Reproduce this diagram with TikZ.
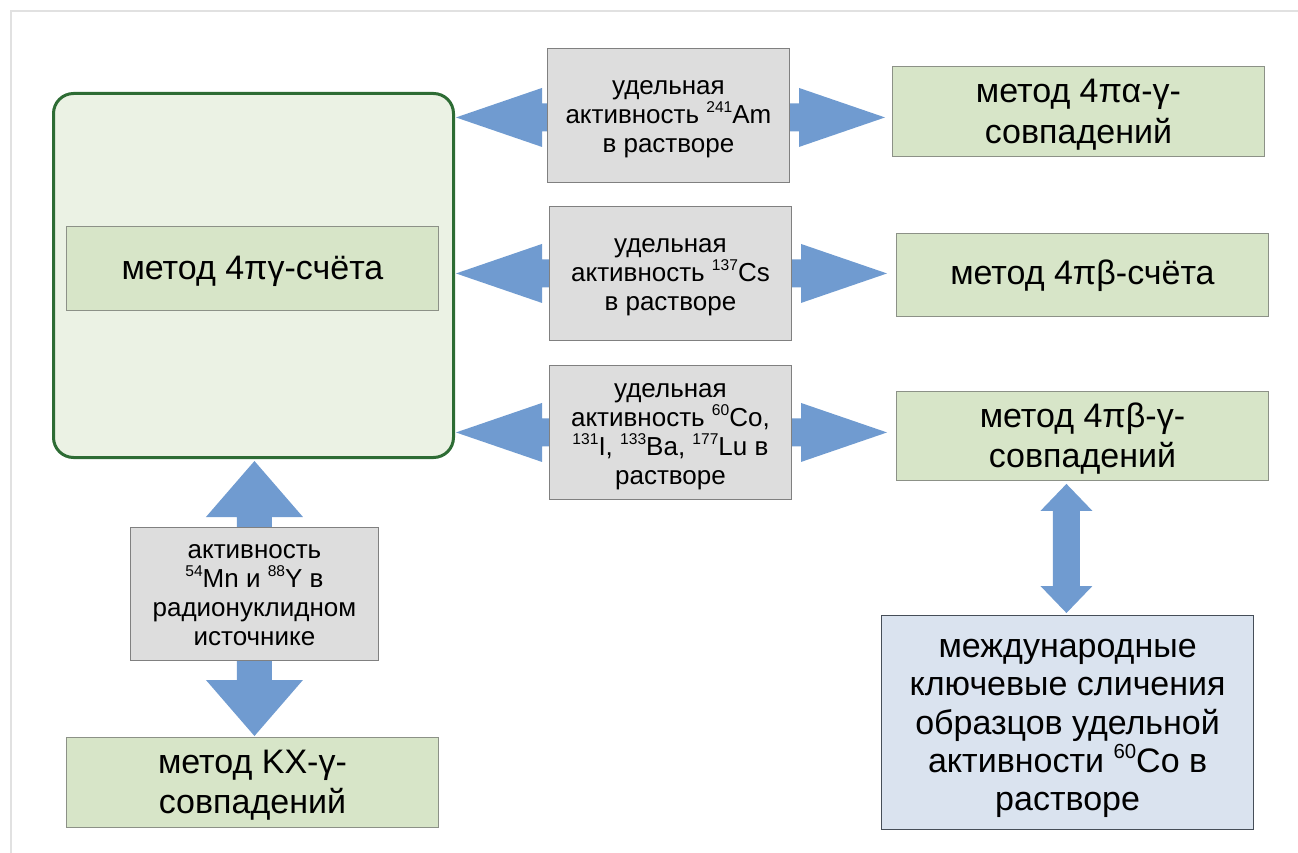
\documentclass[tikz,border=0pt]{standalone}
\usepackage{fontspec}
\setmainfont{Liberation Sans}
\usetikzlibrary{calc}
\pgfdeclarelayer{bg}
\pgfsetlayers{bg,main}
\definecolor{arrowblue}{RGB}{112,155,208}
\definecolor{grayfill}{RGB}{221,221,221}
\definecolor{grayline}{RGB}{128,128,128}
\definecolor{greenfill}{RGB}{215,229,200}
\definecolor{greenline}{RGB}{140,145,135}
\definecolor{bigfill}{RGB}{235,242,228}
\definecolor{bigline}{RGB}{45,108,52}
\definecolor{bluefill}{RGB}{218,227,239}
\definecolor{blueline}{RGB}{70,78,88}
\definecolor{framegray}{RGB}{225,225,225}
\newcommand{\sps}[1]{\raisebox{0.42em}{\scalebox{0.6}{#1}}}
% multi-line centred block whose baseline is that of its first line
\newcommand{\ml}[1]{\vtop{\lineskiplimit=-100pt\halign{\hfil##\hfil\cr#1\crcr}}}
\tikzset{
  box/.style={rectangle, inner sep=0pt, anchor=north west},
  graybox/.style={box, fill=grayfill, draw=grayline, line width=0.9pt,
    font=\fontsize{26}{29}\selectfont},
  greenbox/.style={box, fill=greenfill, draw=greenline, line width=0.9pt,
    font=\fontsize{34}{40.5}\selectfont},
  bluebox/.style={box, fill=bluefill, draw=blueline, line width=1.2pt,
    font=\fontsize{34}{38.3}\selectfont},
  bigbox/.style={box, fill=bigfill, draw=bigline, line width=3pt, rounded corners=20pt},
  fatarrow/.style={fill=arrowblue, draw=none},
  below/.style={text height=0pt, text depth=#1},
  above/.style={text height=#1, text depth=0pt},
}
% horizontal double arrow: #1 left tip, #2 right tip, #3 shaft half, #4 head half, #5 head length
\newcommand{\hdarrow}[5]{%
  \path[fatarrow] let \p1=#1, \p2=#2 in
    (\x1,\y1) -- (\x1+#5,\y1+#4) -- (\x1+#5,\y1+#3) -- (\x2-#5,\y1+#3) --
    (\x2-#5,\y1+#4) -- (\x2,\y1) -- (\x2-#5,\y1-#4) -- (\x2-#5,\y1-#3) --
    (\x1+#5,\y1-#3) -- (\x1+#5,\y1-#4) -- cycle;}
% vertical double arrow: #1 top tip, #2 bottom tip
\newcommand{\vdarrow}[5]{%
  \path[fatarrow] let \p1=#1, \p2=#2 in
    (\x1,\y1) -- (\x1+#4,\y1-#5) -- (\x1+#3,\y1-#5) -- (\x1+#3,\y2+#5) --
    (\x1+#4,\y2+#5) -- (\x1,\y2) -- (\x1-#4,\y2+#5) -- (\x1-#3,\y2+#5) --
    (\x1-#3,\y1-#5) -- (\x1-#4,\y1-#5) -- cycle;}
\begin{document}
\begin{tikzpicture}[x=1pt,y=-1pt]
\useasboundingbox (0,0) rectangle (1298,853);
\draw[framegray, line width=1.5pt] (1300,11) -- (11,11) -- (11,855);

% big box
\node[bigbox, minimum width=400pt, minimum height=364pt] (big) at (52,92) {};
\node[greenbox, above=23pt, minimum width=372pt, minimum height=84pt] (g4pi) at (66,226) {метод 4πγ-счёта};

% gray boxes
\node[graybox, below=42pt, minimum width=242pt, minimum height=134pt] (a1) at (547,48)
  {\ml{удельная\cr активность \sps{241}Am\cr в растворе}};
\node[graybox, below=42pt, minimum width=242pt, minimum height=134pt] (a2) at (549,206)
  {\ml{удельная\cr активность \sps{137}Cs\cr в растворе}};
\node[graybox, below=70pt, minimum width=242pt, minimum height=134pt] (a3) at (549,365)
  {\ml{удельная\cr активность \sps{60}Co,\cr \sps{131}I, \sps{133}Ba, \sps{177}Lu в\cr растворе}};
\node[graybox, below=71pt, minimum width=248pt, minimum height=133pt] (a4) at (130,527)
  {\ml{активность\cr \sps{54}Mn и \sps{88}Y в\cr радионуклидном\cr источнике}};

% green boxes
\node[greenbox, below=17pt, minimum width=372pt, minimum height=90pt] (r1) at (892,66)
  {\ml{метод 4πα-γ-\cr совпадений}};
\node[greenbox, above=20pt, minimum width=372pt, minimum height=83pt] (r2) at (896,233)
  {метод 4πβ-счёта};
\node[greenbox, below=17pt, minimum width=372pt, minimum height=89pt] (r3) at (896,391)
  {\ml{метод 4πβ-γ-\cr совпадений}};
\node[greenbox, below=18pt, minimum width=372pt, minimum height=90pt] (kx) at (66,737)
  {\ml{метод KX-γ-\cr совпадений}};

% blue box
\node[bluebox, below=130pt, minimum width=372pt, minimum height=214pt] (intl) at (881,615)
  {\ml{международные\cr ключевые сличения\cr образцов удельной\cr активности \sps{60}Co в\cr растворе}};

% arrows
\coordinate (t1l) at ($(big.east |- a1.center)+(1,2)$);
\coordinate (t1r) at ($(r1.west |- t1l)+(-7,0)$);
\coordinate (t2l) at ($(big.east |- a2.center)+(1,0)$);
\coordinate (t2r) at ($(r2.west |- t2l)+(-9,0)$);
\coordinate (t3l) at ($(big.east |- a3.center)+(1,0)$);
\coordinate (t3r) at ($(r3.west |- t3l)+(-9,0)$);
\coordinate (v1t) at ($(big.south -| a4.center)+(0,2)$);
\coordinate (v1b) at ($(kx.north -| a4.center)+(0,-1)$);
\coordinate (v2t) at ($(r3.south)+(-16,3)$);
\coordinate (v2b) at ($(intl.north -| v2t)+(0,-2)$);
\begin{pgfonlayer}{bg}
  \hdarrow{(t1l)}{(t1r)}{14pt}{29.5pt}{86pt}
  \hdarrow{(t2l)}{(t2r)}{14pt}{29.5pt}{86pt}
  \hdarrow{(t3l)}{(t3r)}{14pt}{29.5pt}{86pt}
  \vdarrow{(v1t)}{(v1b)}{17.5pt}{48.5pt}{56pt}
  \vdarrow{(v2t)}{(v2b)}{13.5pt}{26pt}{27pt}
\end{pgfonlayer}
\end{tikzpicture}
\end{document}
